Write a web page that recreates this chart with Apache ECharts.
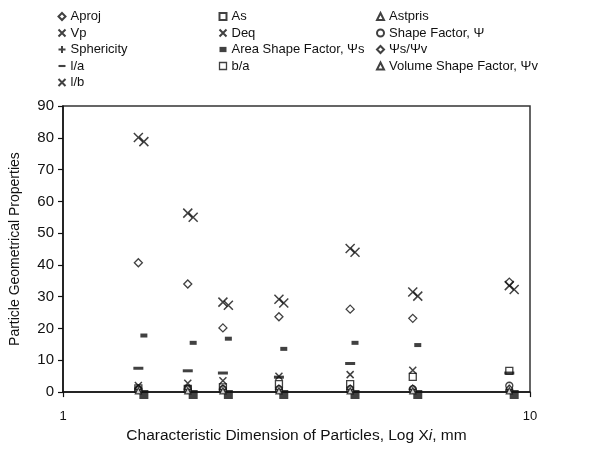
<!DOCTYPE html>
<html>
<head>
<meta charset="utf-8">
<script src="https://cdn.jsdelivr.net/npm/echarts@6/dist/echarts.min.js"></script>
<style>html,body{margin:0;padding:0;background:#fff}#c{width:593px;height:449px}</style>
</head>
<body>
<div id="c"></div>
<script>
// x positions (characteristic dimension, mm)
var xA = [1.45, 1.85, 2.20, 2.90, 4.12, 5.61, 9.03];
var xB = [1.49, 1.90, 2.26, 2.97, 4.22, 5.75, 9.25];

// series values
var aproj   = [40.7, 34.0, 20.2, 23.7, 26.1, 23.2, 34.6];
var as      = [1.2, 1.0, 1.5, 2.5, 2.5, 4.8, 6.7];
var astpris = [1.0, 1.0, 1.0, 1.0, 1.0, 1.0, 1.5];
var vp      = [80.1, 56.3, 28.3, 29.2, 45.2, 31.5, 33.5];
var deq     = [78.8, 55.0, 27.3, 28.0, 44.0, 30.2, 32.3];
var shapeF  = [0.9, 0.9, 0.9, 0.9, 0.9, 0.9, 2.0];
var spher   = [0.8, 0.8, 0.8, 0.8, 0.8, 0.8, 0.8];
var areaSF  = [17.8, 15.5, 16.8, 13.6, 15.5, 14.8, null];
var psiRatio= [1.2, 1.2, 1.2, 1.2, 1.2, 1.2, 1.2];
var la      = [7.5, 6.7, 6.0, 4.7, 9.0, null, 6.0];
var ba      = [0.5, 0.5, 0.5, 0.5, 0.5, 0.5, 0.5];
var volSF   = [0.4, 0.4, 0.4, 0.4, 0.4, 0.4, 0.4];
var lb      = [2.1, 2.8, 3.6, 5.0, 5.5, 6.9, null];

var yTicks = [0, 10, 20, 30, 40, 50, 60, 70, 80, 90];

function pts(xs, ys) {
  var out = [];
  for (var i = 0; i < xs.length; i++) if (ys[i] != null) out.push([xs[i], ys[i]]);
  return out;
}

var X = 'path://M0,0L10,10M10,0L0,10';
var PLUS = 'path://M5,0L5,10M0,5L10,5';
var DASHP = 'path://M0,0L10,0L10,3L0,3Z';
var DOTP = 'path://M0,0L4,0L4,3L0,3Z';
var hollow = {color: '#fff', borderColor: '#111', borderWidth: 1.3};
var stroke = {color: 'none', borderColor: '#111', borderWidth: 1.5};
var solid = {color: '#111', borderColor: '#111', borderWidth: 0};

function S(name, xs, ys, symbol, size, style, extra) {
  var s = {name: name, type: 'scatter', data: pts(xs, ys), symbol: symbol, symbolSize: size,
    itemStyle: style, clip: false, z: 3, emphasis: {disabled: true}};
  if (extra) for (var k in extra) s[k] = extra[k];
  return s;
}

var series = [
  S('b/a', xB, ba, 'rect', 9, solid, {symbolOffset: [0, 4], z: 2}),
  S('Aproj', xA, aproj, 'diamond', 8, hollow),
  S('As', xA, as, 'rect', 7, hollow),
  S('Astpris', xA, astpris, 'triangle', 7, hollow),
  S('Vp', xA, vp, X, 9, stroke),
  S('Deq', xB, deq, X, 9, stroke),
  S('Shape Factor, Ψ', xA, shapeF, 'circle', 7, hollow),
  S('Sphericity', xA, spher, PLUS, 8, stroke),
  S('Area Shape Factor, Ψs', xB, areaSF, 'rect', [7, 4], solid),
  S('Ψs/Ψv', xA, psiRatio, 'diamond', 6, hollow),
  S('l/a', xA, la, 'rect', [10, 3], solid),
  S('Volume Shape Factor, Ψv', xA, volSF, 'triangle', 6, hollow),
  S('l/b', xA, lb, X, 7, stroke)
];

var lgText = {fontFamily: 'Liberation Sans', fontSize: 13, color: '#111'};
function legend(left, names) {
  return {orient: 'vertical', left: left, top: 5, itemWidth: 7, itemHeight: 7, itemGap: 3.5,
    textStyle: lgText, selectedMode: false, data: names};
}

var chart = echarts.init(document.getElementById('c'), null, {renderer: 'canvas'});
chart.setOption({
  animation: false,
  backgroundColor: '#fff',
  textStyle: {fontFamily: 'Liberation Sans'},
  legend: [
    legend(51, ['Aproj', 'Vp', 'Sphericity', {name: 'l/a', icon: DASHP}, 'l/b']),
    legend(212, ['As', 'Deq', {name: 'Area Shape Factor, Ψs', icon: DOTP},
      {name: 'b/a', icon: 'rect', itemStyle: hollow}]),
    legend(371, ['Astpris', 'Shape Factor, Ψ', 'Ψs/Ψv', 'Volume Shape Factor, Ψv'])
  ],
  grid: {left: 63, top: 106, right: 63, bottom: 47, show: true, borderColor: '#333', borderWidth: 1.5, backgroundColor: 'transparent'},
  xAxis: {
    type: 'log', logBase: 10, min: 1, max: 10,
    name: 'Characteristic Dimension of Particles, Log X{i|i}, mm',
    nameLocation: 'middle', nameGap: 27,
    nameTextStyle: {fontFamily: 'Liberation Sans', fontSize: 15.5, color: '#111',
      rich: {i: {fontStyle: 'italic', fontFamily: 'Liberation Sans', fontSize: 15.5, color: '#111'}}},
    axisLine: {onZero: false, lineStyle: {color: '#111', width: 1.5}},
    axisTick: {show: true, length: 5, lineStyle: {color: '#111', width: 1.2}},
    axisLabel: {fontFamily: 'Liberation Sans', fontSize: 13, color: '#111', margin: 18},
    splitLine: {show: false},
    minorTick: {show: false}
  },
  yAxis: {
    type: 'value', min: 0, max: 90, interval: 10,
    name: 'Particle Geometrical Properties', nameLocation: 'middle', nameGap: 41,
    nameTextStyle: {fontFamily: 'Liberation Sans', fontSize: 14, color: '#111'},
    axisLine: {show: true, lineStyle: {color: '#111', width: 1.5}},
    axisTick: {show: true, length: 5, lineStyle: {color: '#111', width: 1.2}},
    axisLabel: {fontFamily: 'Liberation Sans', fontSize: 15, color: '#111', margin: 9,
      formatter: function (v) { return yTicks.indexOf(v) >= 0 ? String(v) : ''; }},
    splitLine: {show: false}
  },
  series: series
});
</script>
</body>
</html>
